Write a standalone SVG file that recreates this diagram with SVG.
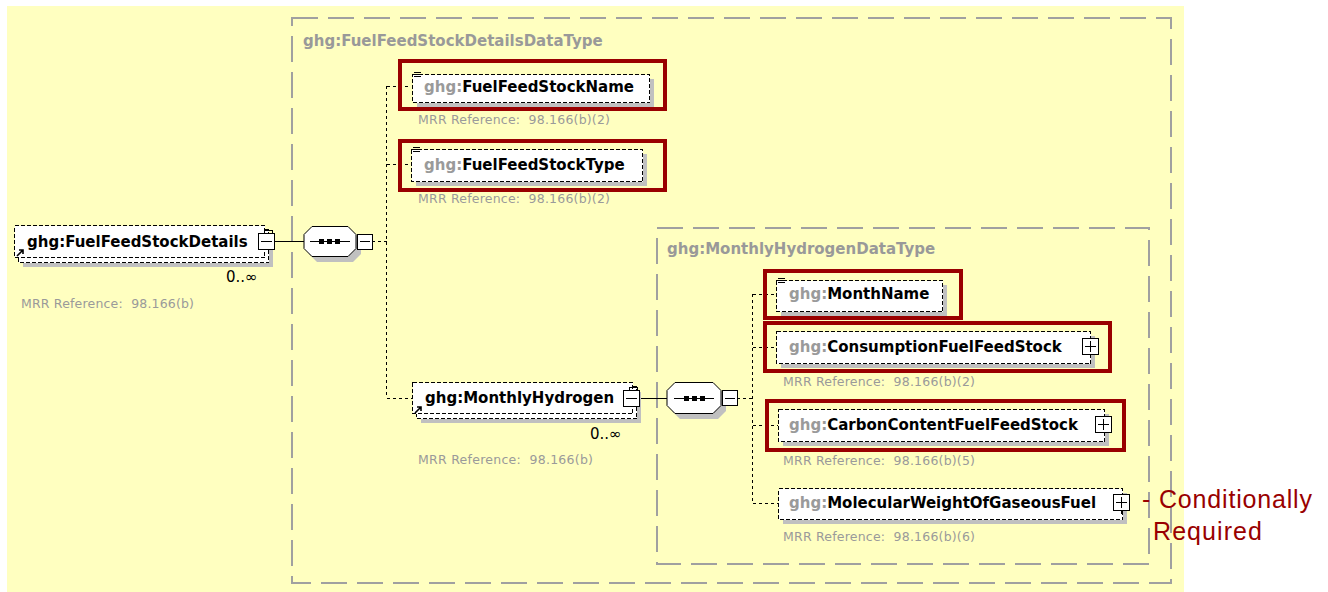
<svg xmlns="http://www.w3.org/2000/svg" width="1328" height="592" viewBox="0 0 1328 592">
<style>
.typebox{fill:none;stroke:#a0a0a0;stroke-width:1.5;stroke-dasharray:26 10;shape-rendering:crispEdges}
.title{font-family:"DejaVu Sans",sans-serif;font-weight:bold;font-size:15px;fill:#999}
.node{fill:#fff;stroke:#000;stroke-width:1;stroke-dasharray:4 2;shape-rendering:crispEdges}
.shadow{fill:#c0c0c0}
.red{fill:none;stroke:#990000;stroke-width:4}
.lbl{font-family:"DejaVu Sans",sans-serif;font-weight:bold;font-size:15px;fill:#000}
.pre{fill:#9a9a9a}
.mrr{font-family:"DejaVu Sans",sans-serif;font-size:12.5px;fill:#9a9a9a}
.occ{font-family:"DejaVu Sans",sans-serif;font-size:15px;fill:#000}
.conn{stroke:#000;stroke-width:1;fill:none;shape-rendering:crispEdges}
.dot{stroke:#000;stroke-width:1;fill:none;stroke-dasharray:3 3;shape-rendering:crispEdges}
.btn{fill:#fff;stroke:#000;stroke-width:1;shape-rendering:crispEdges}
.oct{fill:#fff;stroke:#000;stroke-width:1}
.note{font-family:"Liberation Sans",Arial,sans-serif;font-size:25px;fill:#990000}
</style>
<defs>
<g id="lines3"><path d="M0,0.5h7M0,2.5h7M0,4.5h7" stroke="#000" stroke-width="1" fill="none" shape-rendering="crispEdges"/></g>
<g id="refarrow"><path d="M0,7L6,1M2,1h4v4" stroke="#000" stroke-width="1.6" fill="none"/></g>
</defs>
<rect x="7" y="6" width="1177" height="586" fill="#ffffc0"/>
<rect class="typebox" x="292" y="18" width="879" height="565"/>
<text class="title" x="303" y="46">ghg:FuelFeedStockDetailsDataType</text>
<rect class="typebox" x="657" y="228" width="492" height="336"/>
<text class="title" x="667" y="254">ghg:MonthlyHydrogenDataType</text>

<g id="connectors">
<path class="conn" d="M274,241.5H304"/>
<path class="dot" d="M372,241.5H386.5M386.5,86V398M386.5,86.5H411M386.5,164.5H411M386.5,398.5H412"/>
<path class="conn" d="M639,398.5H667"/>
<path class="dot" d="M737,398.5H752.5M752.5,294V503M752.5,294.5H776M752.5,347.5H776M752.5,425.5H778M752.5,503.5H778"/>
</g>

<g id="FuelFeedStockDetails">
<rect class="shadow" x="23" y="235" width="250" height="32"/>
<rect class="node" x="18.5" y="229.5" width="250" height="33"/>
<rect class="node" x="14.5" y="225.5" width="250" height="32"/>
<use href="#refarrow" x="17" y="249"/>
<text class="lbl" x="27" y="247">ghg:FuelFeedStockDetails</text>
<rect class="btn" x="258.5" y="233.5" width="16" height="16"/>
<path class="conn" d="M261,241.5H272M264.5,233V230.5H272.5V233"/>
<text class="occ" x="226" y="282">0..∞</text>
<text class="mrr" x="21" y="308" textLength="173" xml:space="preserve">MRR Reference:  98.166(b)</text>
</g>

<g id="seq1">
<polygon class="shadow" points="317,232 353,232 361,240 361,254 353,262 317,262 309,254 309,240"/>
<polygon class="oct" points="312,226.5 348,226.5 356,234.5 356,248.5 348,256.5 312,256.5 304,248.5 304,234.5"/>
<path class="conn" d="M310,241.5H350"/>
<rect x="319" y="239" width="5" height="5"/>
<rect x="327" y="239" width="5" height="5"/>
<rect x="335" y="239" width="5" height="5"/>
<rect class="btn" x="357.5" y="234.5" width="15" height="15"/>
<path class="conn" d="M360,241.5H370"/>
</g>

<g id="FuelFeedStockName">
<rect class="shadow" x="417" y="79" width="237" height="28"/>
<rect class="node" x="412.5" y="74.5" width="237" height="28"/>
<use href="#lines3" x="414" y="72"/>
<text class="lbl" x="424" y="92"><tspan class="pre">ghg:</tspan>FuelFeedStockName</text>
<rect class="red" x="400" y="61" width="265" height="48"/>
<text class="mrr" x="418" y="124" textLength="192" xml:space="preserve">MRR Reference:  98.166(b)(2)</text>
</g>

<g id="FuelFeedStockType">
<rect class="shadow" x="416" y="154" width="231" height="32"/>
<rect class="node" x="411.5" y="149.5" width="231" height="32"/>
<use href="#lines3" x="413" y="147"/>
<text class="lbl" x="424" y="170"><tspan class="pre">ghg:</tspan>FuelFeedStockType</text>
<rect class="red" x="400" y="141" width="265" height="49"/>
<text class="mrr" x="418" y="203" textLength="192" xml:space="preserve">MRR Reference:  98.166(b)(2)</text>
</g>

<g id="MonthlyHydrogen">
<rect class="shadow" x="421" y="392" width="220" height="31"/>
<rect class="node" x="416.5" y="386.5" width="220" height="32"/>
<rect class="node" x="412.5" y="382.5" width="220" height="31"/>
<use href="#refarrow" x="415" y="406"/>
<text class="lbl" x="425" y="403">ghg:MonthlyHydrogen</text>
<rect class="btn" x="623.5" y="390.5" width="16" height="16"/>
<path class="conn" d="M626,398.5H637M629.5,390V387.5H637.5V390"/>
<text class="occ" x="590" y="439">0..∞</text>
<text class="mrr" x="418" y="464" textLength="175" xml:space="preserve">MRR Reference:  98.166(b)</text>
</g>

<g id="seq2">
<polygon class="shadow" points="680,388 718,388 726,396 726,411 718,419 680,419 672,411 672,396"/>
<polygon class="oct" points="675,382.5 713,382.5 721,390.5 721,405.5 713,413.5 675,413.5 667,405.5 667,390.5"/>
<path class="conn" d="M674,398.5H714"/>
<rect x="684" y="396" width="5" height="5"/>
<rect x="692" y="396" width="5" height="5"/>
<rect x="700" y="396" width="5" height="5"/>
<rect class="btn" x="722.5" y="390.5" width="15" height="15"/>
<path class="conn" d="M725,398.5H735"/>
</g>

<g id="MonthName">
<rect class="shadow" x="781" y="285" width="166" height="31"/>
<rect class="node" x="776.5" y="280.5" width="166" height="31"/>
<use href="#lines3" x="778" y="278"/>
<text class="lbl" x="789" y="299"><tspan class="pre">ghg:</tspan>MonthName</text>
<rect class="red" x="765" y="271" width="196" height="47"/>
</g>

<g id="ConsumptionFuelFeedStock">
<rect class="shadow" x="781" y="336" width="314" height="32"/>
<rect class="node" x="776.5" y="331.5" width="314" height="32"/>
<text class="lbl" x="789" y="352"><tspan class="pre">ghg:</tspan>ConsumptionFuelFeedStock</text>
<rect class="btn" x="1082.5" y="338.5" width="16" height="16"/>
<path class="conn" d="M1085,346.5H1096M1090.5,341V352"/>
<rect class="red" x="765" y="323" width="345" height="48"/>
<text class="mrr" x="783" y="386" textLength="192" xml:space="preserve">MRR Reference:  98.166(b)(2)</text>
</g>

<g id="CarbonContentFuelFeedStock">
<rect class="shadow" x="783" y="414" width="326" height="32"/>
<rect class="node" x="778.5" y="409.5" width="326" height="32"/>
<text class="lbl" x="789" y="430"><tspan class="pre">ghg:</tspan>CarbonContentFuelFeedStock</text>
<rect class="btn" x="1095.5" y="416.5" width="16" height="16"/>
<path class="conn" d="M1098,424.5H1109M1103.5,419V430"/>
<rect class="red" x="767" y="401" width="357" height="49"/>
<text class="mrr" x="783" y="465" textLength="192" xml:space="preserve">MRR Reference:  98.166(b)(5)</text>
</g>

<g id="MolecularWeightOfGaseousFuel">
<rect class="shadow" x="783" y="493" width="344" height="31"/>
<rect class="node" x="778.5" y="488.5" width="344" height="31"/>
<text class="lbl" x="789" y="508"><tspan class="pre">ghg:</tspan>MolecularWeightOfGaseousFuel</text>
<rect class="btn" x="1113.5" y="494.5" width="16" height="16"/>
<path class="conn" d="M1116,502.5H1127M1121.5,497V508M1121.5,510V514"/>
<text class="mrr" x="783" y="541" textLength="192" xml:space="preserve">MRR Reference:  98.166(b)(6)</text>
</g>

<g id="note">
<text class="note" x="1142" y="508" textLength="170">- Conditionally</text>
<text class="note" x="1153" y="540" textLength="109">Required</text>
</g>
</svg>
